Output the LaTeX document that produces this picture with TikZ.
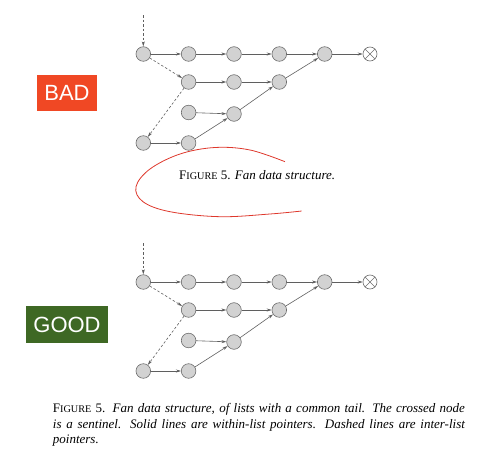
\documentclass[tikz,border=0pt]{standalone}
\usepackage{fontspec}
\setmainfont{Liberation Serif}
\newfontfamily\labelfont{Liberation Sans}
\usetikzlibrary{arrows.meta,shapes.misc}
\definecolor{cellfill}{RGB}{210,210,210}
\definecolor{cellline}{RGB}{110,110,110}
\definecolor{pointer}{RGB}{95,95,95}
\definecolor{badred}{RGB}{240,72,36}
\definecolor{goodgreen}{RGB}{62,104,36}
\definecolor{penred}{RGB}{222,56,44}

\begin{document}
\begin{tikzpicture}[x=1pt, y=-1pt]
            \tikzstyle{cell} = [circle, draw=cellline, fill=cellfill, line width=0.6pt,
                inner sep=0pt, minimum size=14.6pt]
            \tikzstyle{sentinel} = [cross out, draw=cellline, line width=0.6pt,
                inner sep=0pt, minimum size=9.6pt]
            \tikzstyle{ring} = [circle, draw=cellline, fill=white, line width=0.6pt,
                inner sep=0pt, minimum size=14pt]
            \tikzstyle{within} = [draw=pointer, line width=0.6pt, -{Stealth[length=5pt, width=3pt]}]
            \tikzstyle{inter} = [within, dash pattern=on 2.5pt off 2pt]
            \tikzstyle{tag} = [inner sep=0pt, text=white, font=\labelfont\fontsize{22}{22}\selectfont]
            \useasboundingbox (0, 0) rectangle (499, 455);

            % the same fan is drawn twice, once per verdict
            \foreach \d/\dy in {b/0, g/228} {
                \coordinate (\d in) at (143.3, 15+\dy);
                \node[cell] (\d10) at (143.3, 54+\dy) {};
                \node[cell] (\d11) at (188.6, 54+\dy) {};
                \node[cell] (\d12) at (234, 54+\dy) {};
                \node[cell] (\d13) at (279.3, 54+\dy) {};
                \node[cell] (\d14) at (324.7, 54+\dy) {};
                \node[ring] (\d s) at (370, 54+\dy) {};
                \node[sentinel] at (\d s) {};
                \node[cell] (\d21) at (188.6, 82+\dy) {};
                \node[cell] (\d22) at (234, 82+\dy) {};
                \node[cell] (\d23) at (279.3, 82+\dy) {};
                \node[cell] (\d31) at (188.6, 112.5+\dy) {};
                \node[cell] (\d32) at (234, 114+\dy) {};
                \node[cell] (\d40) at (143.3, 143+\dy) {};
                \node[cell] (\d41) at (188.6, 143+\dy) {};

                \draw[within] (\d10) -- (\d11);
                \draw[within] (\d11) -- (\d12);
                \draw[within] (\d12) -- (\d13);
                \draw[within] (\d13) -- (\d14);
                \draw[within] (\d14) -- (\d s);
                \draw[within] (\d21) -- (\d22);
                \draw[within] (\d22) -- (\d23);
                \draw[within] (\d23) -- (\d14);
                \draw[within] (\d31) -- (\d32);
                \draw[within] (\d32) -- (\d23);
                \draw[within] (\d40) -- (\d41);
                \draw[within] (\d41) -- (\d32);

                \draw[inter] (\d in) -- (\d10);
                \draw[inter] (\d10) -- (\d21);
                \draw[inter] (\d21) -- (\d40);
            }

            \node[tag, fill=badred, minimum width=60pt, minimum height=36pt] (bad) at (67, 93) {BAD};
            \node[tag, fill=goodgreen, minimum width=82pt, minimum height=37pt] (good) at (67, 324.5) {GOOD};

            \node[anchor=base west, inner sep=0pt, font=\fontsize{13}{15}\selectfont] (short caption) at (179, 179)
                {F{\fontsize{10.2}{12}\selectfont IGURE} 5. \textit{Fan data structure.}};
            \draw[penred, line width=0.8pt] plot[smooth, tension=0.6] coordinates {(285, 161.7) (250, 150)
                (215, 147.5) (180, 154) (150, 169) (136, 186.7) (143, 201.7) (170, 211.7) (220, 216.7)
                (270, 214) (301.7, 211)};

            \node[anchor=north west, inner sep=0pt, text width=412pt, align=justify,
                font=\fontsize{13}{15.8}\selectfont] (long caption) at (52.7, 403)
                {F{\fontsize{10.2}{12}\selectfont IGURE} 5. \textit{Fan data structure, of lists with a
                common tail. The crossed node\linebreak is a sentinel. Solid lines are within-list
                pointers. Dashed lines are inter-list\linebreak pointers.}};
        \end{tikzpicture}
\end{document}
